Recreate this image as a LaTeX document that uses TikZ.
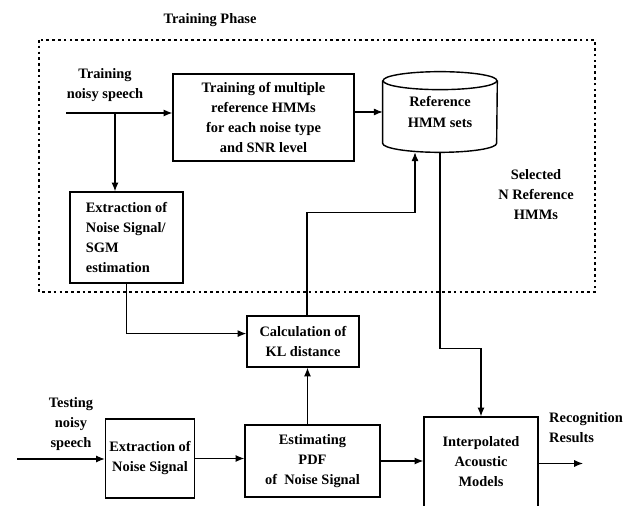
\documentclass[tikz,border=0pt]{standalone}
\usepackage{fontspec}
\setmainfont{Liberation Serif}
\usetikzlibrary{arrows.meta}

\begin{document}
\begin{tikzpicture}[x=0.02cm,y=-0.02cm,
		>={Latex[length=5pt,width=4pt]},
		every node/.style={font=\fontsize{8.2}{11.4}\selectfont\bfseries},
		box/.style={draw,line width=0.8pt,align=center,inner sep=0pt},
		link/.style={->,line width=0.6pt}]
	\useasboundingbox (0,0) rectangle (637,506);
	\clip (0,0) rectangle (637,506);
	% the training phase, inside the dotted frame
	\node (phase) at (210,20) {Training Phase};
	\draw[line width=1.7pt,dash pattern=on 1.5pt off 1.8pt] (39,40) rectangle (595,292);
	\node[align=center] (trtext) at (105,85) {Training\\noisy speech};
	\coordinate (trin) at (66,113);
	\coordinate (split) at (115,113);
	\node[box,minimum width=3.62cm,minimum height=1.74cm] (train) at (263.5,117.5)
		{Training of multiple\\reference HMMs\\for each noise type\\and SNR level};
	\node[box,align=left,minimum width=2.26cm,minimum height=1.82cm] (ext1) at (126.5,237.5)
		{Extraction of\\Noise Signal/\\SGM\\estimation};
	% the store of reference models, a cylinder
	\node[align=center,minimum width=2.28cm,minimum height=1.6cm] (ref) at (440,112) {Reference\\HMM sets};
	\draw[line width=0.8pt] ([yshift=-0.18cm]ref.north west) -- ([yshift=0.18cm]ref.south west)
		arc[start angle=180,end angle=360,x radius=1.14cm,y radius=0.18cm] -- ([yshift=-0.18cm]ref.north east);
	\draw[line width=0.8pt] ([yshift=-0.18cm]ref.north) ellipse[x radius=1.14cm,y radius=0.18cm];
	\node[align=center] (sel) at (536,195) {Selected\\N Reference\\HMMs};
	\draw[link] (trin) -- (trin -| train.west);
	\draw[link] (split) -- (split |- ext1.north);
	\draw[link] (ref.west -| train.east) -- (ref.west);
	% the testing path
	\node[box,minimum width=2.24cm,minimum height=1.02cm] (calc) at (303,341.5) {Calculation of\\KL distance};
	\node[align=center] (tetext) at (71,424) {Testing\\noisy\\speech};
	\coordinate (tein) at (17,459);
	\node[box,minimum width=1.78cm,minimum height=1.58cm] (ext2) at (150,458.5) {Extraction of\\Noise Signal};
	\node[box,minimum width=2.7cm,minimum height=1.44cm] (est) at (312.5,461) {Estimating\\PDF\\of~ Noise Signal};
	% box runs on past the bottom edge
	\node[box,minimum width=2.28cm,minimum height=2.3cm,
		label={[align=center,yshift=0.26cm]center:Interpolated\\Acoustic\\Models}] (interp) at (481,474.5) {};
	\node[align=left,anchor=west] (res) at (543,428) {Recognition\\Results};
	\coordinate (out) at (583,463.5);
	\draw[link] (ext1.south) |- ([yshift=4.5pt]calc.west);
	\draw[link] ([xshift=0.08cm]calc.north) -- ++(0,-103) -| ([xshift=-0.5cm]ref.south);
	\draw[link] (ref.south) -- ++(0,196) -| (interp.north);
	\draw[link] (tein) -- (tein -| ext2.west);
	\draw[link] (ext2.east) -- (ext2.east -| est.west);
	\draw[link] ([xshift=-0.1cm]est.north) -- ([xshift=-0.1cm]est.north |- calc.south);
	\draw[link] (est.east) -- (est.east -| interp.west);
	\draw[link] (out -| interp.east) -- (out);
\end{tikzpicture}
\end{document}
